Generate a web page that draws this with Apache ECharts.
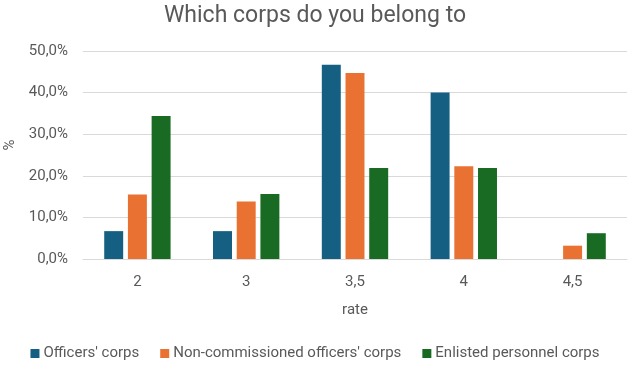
<!DOCTYPE html>
<html>
<head>
<meta charset="utf-8">
<script src="https://cdn.jsdelivr.net/npm/echarts@6/dist/echarts.min.js"></script>
<style>
  html, body { margin: 0; padding: 0; background: #fff; }
  #chart { width: 630px; height: 369px; }
</style>
</head>
<body>
<div id="chart"></div>
<script>
// categories (rate)
var rates = ['2', '3', '3,5', '4', '4,5']
// share per corps, in %
var officers = [6.7, 6.7, 46.7, 40.0, 0]
var nonCommissioned = [15.5, 13.8, 44.7, 22.3, 3.2]
var enlisted = [34.4, 15.6, 21.9, 21.9, 6.2]
var seriesNames = ["Officers' corps", "Non-commissioned officers' corps", 'Enlisted personnel corps']

var textColor = '#595959'
var font = 'Roboto'

function pct(v) {
  return v.toFixed(1).replace('.', ',') + '%'
}

var chart = echarts.init(document.getElementById('chart'))
chart.setOption({
  animation: false,
  textStyle: { fontFamily: font },
  title: {
    text: 'Which corps do you belong to',
    left: 'center',
    top: 0,
    textStyle: { fontFamily: font, fontSize: 23, fontWeight: 'normal', color: textColor }
  },
  grid: { left: 83, right: 3, top: 51, bottom: 110, outerBoundsMode: 'none', containLabel: false },
  legend: {
    bottom: 3,
    left: 'center',
    itemWidth: 9,
    itemHeight: 9,
    itemGap: 21,
    icon: 'rect',
    textStyle: { fontFamily: font, fontSize: 15, color: textColor, padding: [0, 0, 0, -1] },
    data: seriesNames
  },
  xAxis: {
    type: 'category',
    data: rates,
    name: 'rate',
    nameLocation: 'middle',
    nameGap: 44,
    nameTextStyle: { fontSize: 15, color: textColor },
    axisLine: { lineStyle: { color: '#d9d9d9' } },
    axisTick: { show: false },
    axisLabel: { fontSize: 15, color: textColor, margin: 16 }
  },
  yAxis: {
    type: 'value',
    min: 0,
    max: 50,
    interval: 10,
    name: '%',
    nameLocation: 'middle',
    nameGap: 63,
    nameTextStyle: { fontSize: 15, color: textColor, padding: [0, 0, 0, 20] },
    axisLine: { show: false },
    axisTick: { show: false },
    axisLabel: { fontSize: 15, color: textColor, margin: 15, formatter: pct },
    splitLine: { lineStyle: { color: '#d9d9d9', width: 1 } }
  },
  series: [
    {
      name: seriesNames[0],
      type: 'bar',
      data: officers,
      color: '#156082',
      barGap: '25%',
      barCategoryGap: '39%'
    },
    {
      name: seriesNames[1],
      type: 'bar',
      data: nonCommissioned,
      color: '#E97132',
      barGap: '25%',
      barCategoryGap: '39%'
    },
    {
      name: seriesNames[2],
      type: 'bar',
      data: enlisted,
      color: '#196B24',
      barGap: '25%',
      barCategoryGap: '39%'
    }
  ]
})
</script>
</body>
</html>
